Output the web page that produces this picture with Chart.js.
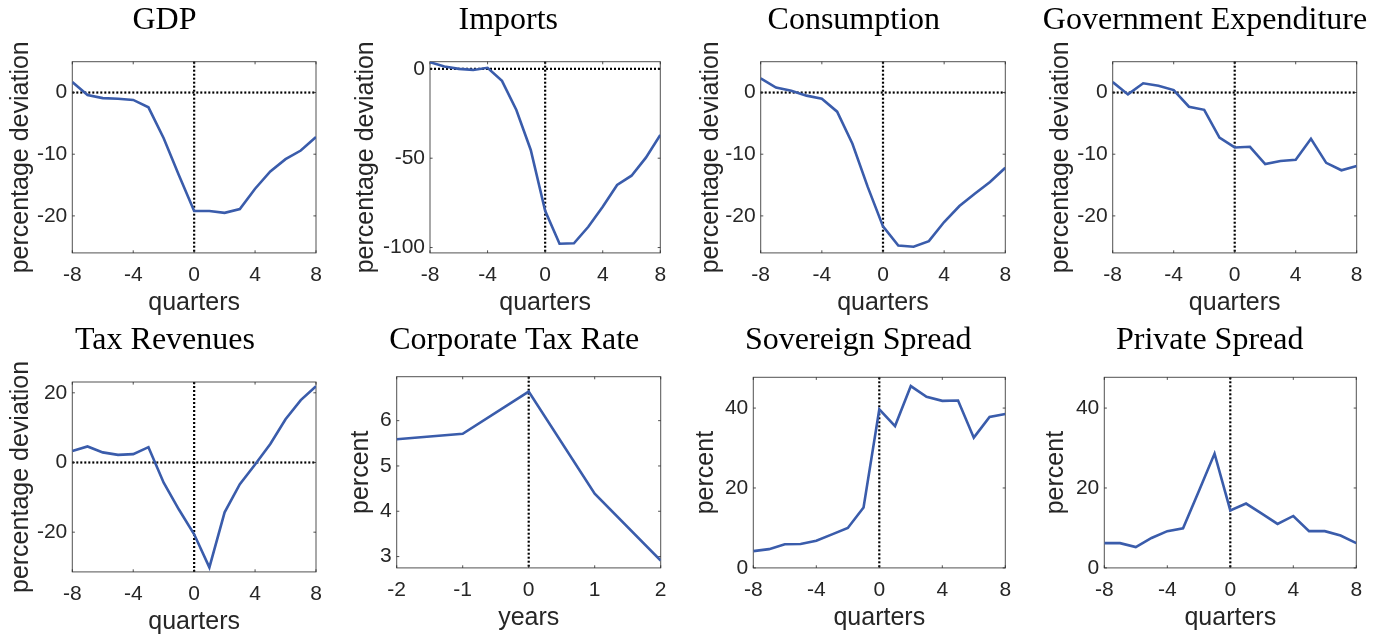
<!DOCTYPE html>
<html><head><meta charset="utf-8">
<script src="https://cdn.jsdelivr.net/npm/chart.js@4.4.0/dist/chart.umd.min.js"></script>
<style>
html,body{margin:0;padding:0;background:#fff;}
body{width:1385px;height:642px;position:relative;overflow:hidden;}
canvas{position:absolute;}
</style></head><body>
<script>
// ---------- data ----------
const quarters = [-8,-7,-6,-5,-4,-3,-2,-1,0,1,2,3,4,5,6,7,8];
const years = [-2,-1,0,1,2];

const gdp = [1.7,-0.4,-0.9,-1.0,-1.2,-2.4,-7.4,-13.4,-19.2,-19.2,-19.5,-18.9,-15.6,-12.8,-10.8,-9.4,-7.2];
const imports = [3.7,1.3,0.0,-0.6,0.6,-6.7,-23.0,-45.4,-79.4,-97.9,-97.6,-88.4,-77.2,-65.0,-59.8,-49.7,-37.0];
const consumption = [2.3,0.8,0.3,-0.5,-1.0,-3.1,-8.3,-15.3,-21.7,-24.8,-25.0,-24.1,-21.0,-18.4,-16.4,-14.5,-12.2];
const govExpenditure = [1.7,-0.3,1.5,1.1,0.4,-2.3,-2.8,-7.3,-8.9,-8.8,-11.6,-11.1,-10.9,-7.5,-11.4,-12.6,-11.9];
const taxRevenues = [3.3,4.6,2.9,2.2,2.4,4.4,-5.8,-13.5,-20.6,-30.1,-14.3,-6.2,-0.6,5.3,12.4,17.9,21.9];
const corporateTaxRate = [5.59,5.71,6.64,4.39,2.91];
const sovereignSpread = [4.2,4.7,5.9,6.0,6.8,8.4,10.0,15.1,39.7,35.5,45.5,42.8,41.8,41.9,32.6,37.8,38.5];
const privateSpread = [6.2,6.2,5.2,7.5,9.2,9.9,19.2,28.6,14.4,16.1,13.6,11.0,13.0,9.2,9.2,8.1,6.2];

// ---------- ticks / ranges ----------
const quarterTicks = [-8,-4,0,4,8];
const yearTicks = [-2,-1,0,1,2];
const deviationTicks = [-20,-10,0];
const importTicks = [-100,-50,0];
const taxTicks = [-20,0,20];
const corpTicks = [3,4,5,6];
const spreadTicks = [0,20,40];

const deviationRange = [-26,5];
const importRange = [-103,4];
const taxRange = [-31.4,23.1];
const corpRange = [2.75,6.97];
const spreadRange = [0,47.7];

const titles = ['GDP','Imports','Consumption','Government Expenditure','Tax Revenues','Corporate Tax Rate','Sovereign Spread','Private Spread'];

const panels = [
  {title:titles[0], ylabel:'percentage deviation', xlabel:'quarters', xs:quarters, ys:gdp, xTicks:quarterTicks, yTicks:deviationTicks, yRange:deviationRange, hLine:true},
  {title:titles[1], ylabel:'percentage deviation', xlabel:'quarters', xs:quarters, ys:imports, xTicks:quarterTicks, yTicks:importTicks, yRange:importRange, hLine:true},
  {title:titles[2], ylabel:'percentage deviation', xlabel:'quarters', xs:quarters, ys:consumption, xTicks:quarterTicks, yTicks:deviationTicks, yRange:deviationRange, hLine:true},
  {title:titles[3], ylabel:'percentage deviation', xlabel:'quarters', xs:quarters, ys:govExpenditure, xTicks:quarterTicks, yTicks:deviationTicks, yRange:deviationRange, hLine:true},
  {title:titles[4], ylabel:'percentage deviation', xlabel:'quarters', xs:quarters, ys:taxRevenues, xTicks:quarterTicks, yTicks:taxTicks, yRange:taxRange, hLine:true},
  {title:titles[5], ylabel:'percent', xlabel:'years', xs:years, ys:corporateTaxRate, xTicks:yearTicks, yTicks:corpTicks, yRange:corpRange, hLine:false},
  {title:titles[6], ylabel:'percent', xlabel:'quarters', xs:quarters, ys:sovereignSpread, xTicks:quarterTicks, yTicks:spreadTicks, yRange:spreadRange, hLine:false},
  {title:titles[7], ylabel:'percent', xlabel:'quarters', xs:quarters, ys:privateSpread, xTicks:quarterTicks, yTicks:spreadTicks, yRange:spreadRange, hLine:false}
];

// ---------- layout (page pixels) ----------
const layout = [
  {boxL:72.3,  boxR:316,    boxT:61.7,  boxB:252.3, titleC:164.5,  ylabBase:28.3,   row:0},
  {boxL:430,   boxR:660.3,  boxT:61.7,  boxB:252.3, titleC:508.3,  ylabBase:373.3,  row:0},
  {boxL:760.7, boxR:1005.3, boxT:61.7,  boxB:252.3, titleC:853.8,  ylabBase:718.3,  row:0},
  {boxL:1112.7,boxR:1356.7, boxT:61.7,  boxB:252.3, titleC:1205,   ylabBase:1068.3, row:0},
  {boxL:72.3,  boxR:316,    boxT:382,   boxB:571.7, titleC:165,    ylabBase:28.3,   row:1},
  {boxL:396.7, boxR:660.7,  boxT:376.7, boxB:567,   titleC:514.2,  ylabBase:368.3,  row:1},
  {boxL:753.3, boxR:1005.3, boxT:377.3, boxB:567.3, titleC:858.3,  ylabBase:713.3,  row:1},
  {boxL:1104.3,boxR:1356.3, boxT:377.3, boxB:567.3, titleC:1209.7, ylabBase:1063.3, row:1}
];
const rowTop = [0, 316];
const titleBase = [29.3, 349.3];
const XAXIS_H = 63.1, PAD_B = 8;
const BLUE = '#3a5cab';
const TXT = '#262626';
const SANS = "'Liberation Sans', Arial, Helvetica, sans-serif";
const SERIF = "'Liberation Serif', 'Times New Roman', serif";

const framePlugin = {
  id: 'frame',
  beforeDatasetsDraw(chart, args, opts) {
    const {ctx, chartArea:a, scales} = chart;
    ctx.save();
    // dotted reference lines
    ctx.strokeStyle = '#000';
    ctx.lineWidth = 2.2;
    ctx.setLineDash([2, 2]);
    const x0 = scales.x.getPixelForValue(0);
    ctx.beginPath(); ctx.moveTo(x0, a.top); ctx.lineTo(x0, a.bottom); ctx.stroke();
    if (opts.h) {
      const y0 = scales.y.getPixelForValue(0);
      ctx.beginPath(); ctx.moveTo(a.left, y0); ctx.lineTo(a.right, y0); ctx.stroke();
    }
    ctx.setLineDash([]);
    // box
    ctx.strokeStyle = 'rgba(38,38,38,0.8)';
    ctx.lineWidth = 1;
    ctx.strokeRect(a.left, a.top, a.right - a.left, a.bottom - a.top);
    // inward ticks on all sides
    const tl = 2.6;
    ctx.beginPath();
    scales.x.ticks.forEach(t => {
      const x = scales.x.getPixelForValue(t.value);
      ctx.moveTo(x, a.bottom); ctx.lineTo(x, a.bottom - tl);
      ctx.moveTo(x, a.top); ctx.lineTo(x, a.top + tl);
    });
    scales.y.ticks.forEach(t => {
      const y = scales.y.getPixelForValue(t.value);
      ctx.moveTo(a.left, y); ctx.lineTo(a.left + tl, y);
      ctx.moveTo(a.right, y); ctx.lineTo(a.right - tl, y);
    });
    ctx.stroke();
    ctx.restore();
  }
};

const textPlugin = {
  id: 'panelText',
  afterDraw(chart, args, opts) {
    const {ctx, chartArea:a} = chart;
    ctx.save();
    ctx.fillStyle = '#000';
    ctx.font = '32px ' + SERIF;
    ctx.textAlign = 'center';
    ctx.textBaseline = 'alphabetic';
    ctx.fillText(opts.title, opts.titleX, opts.titleY);
    ctx.fillStyle = TXT;
    ctx.font = '25px ' + SANS;
    ctx.translate(opts.ylabelX, (a.top + a.bottom) / 2);
    ctx.rotate(-Math.PI / 2);
    ctx.fillText(opts.ylabel, 0, 0);
    ctx.restore();
  }
};

panels.forEach((p, i) => {
  const g = layout[i];
  const cL = Math.floor(g.ylabBase - 30);
  const cT = rowTop[g.row];
  const cR = Math.min(1385, Math.ceil(Math.max(g.boxR + 14, g.titleC + 172)));
  const cB = Math.ceil(g.boxB + XAXIS_H + PAD_B);
  const W = cR - cL, H = cB - cT;
  const cv = document.createElement('canvas');
  cv.width = W; cv.height = H;
  cv.style.left = cL + 'px'; cv.style.top = cT + 'px';
  cv.style.width = W + 'px'; cv.style.height = H + 'px';
  document.body.appendChild(cv);
  const tickFont = {family: SANS, size: 21};
  new Chart(cv, {
    type: 'line',
    data: {
      datasets: [{
        data: p.xs.map((x, k) => ({x: x, y: p.ys[k]})),
        borderColor: BLUE, borderWidth: 2.6, pointRadius: 0, tension: 0, fill: false
      }]
    },
    options: {
      responsive: false, animation: false, devicePixelRatio: 1,
      events: [],
      layout: {padding: {left: 0, top: g.boxT - cT, right: W - (g.boxR - cL), bottom: PAD_B}},
      plugins: {
        legend: {display: false}, tooltip: {enabled: false}, title: {display: false},
        panelText: {title: p.title, titleX: g.titleC - cL, titleY: titleBase[g.row] - cT, ylabel: p.ylabel, ylabelX: g.ylabBase - cL},
        frame: {h: p.hLine}
      },
      scales: {
        x: {
          type: 'linear', min: p.xTicks[0], max: p.xTicks[p.xTicks.length - 1],
          afterBuildTicks: s => { s.ticks = p.xTicks.map(v => ({value: v})); },
          afterFit: s => { s.height = XAXIS_H; },
          grid: {display: false, drawTicks: false}, border: {display: false},
          ticks: {font: tickFont, color: TXT, padding: 9.6, maxRotation: 0, minRotation: 0, autoSkip: false, callback: v => String(v)},
          title: {display: true, text: p.xlabel, font: {family: SANS, size: 25, lineHeight: 1}, color: TXT, padding: {top: 0, bottom: 0}}
        },
        y: {
          type: 'linear', min: p.yRange[0], max: p.yRange[1],
          afterBuildTicks: s => { s.ticks = p.yTicks.map(v => ({value: v})); },
          afterFit: s => { s.width = g.boxL - cL; },
          grid: {display: false, drawTicks: false}, border: {display: false},
          ticks: {font: tickFont, color: TXT, padding: 5, autoSkip: false, callback: v => String(v)}
        }
      }
    },
    plugins: [framePlugin, textPlugin]
  });
});
</script>
</body></html>
